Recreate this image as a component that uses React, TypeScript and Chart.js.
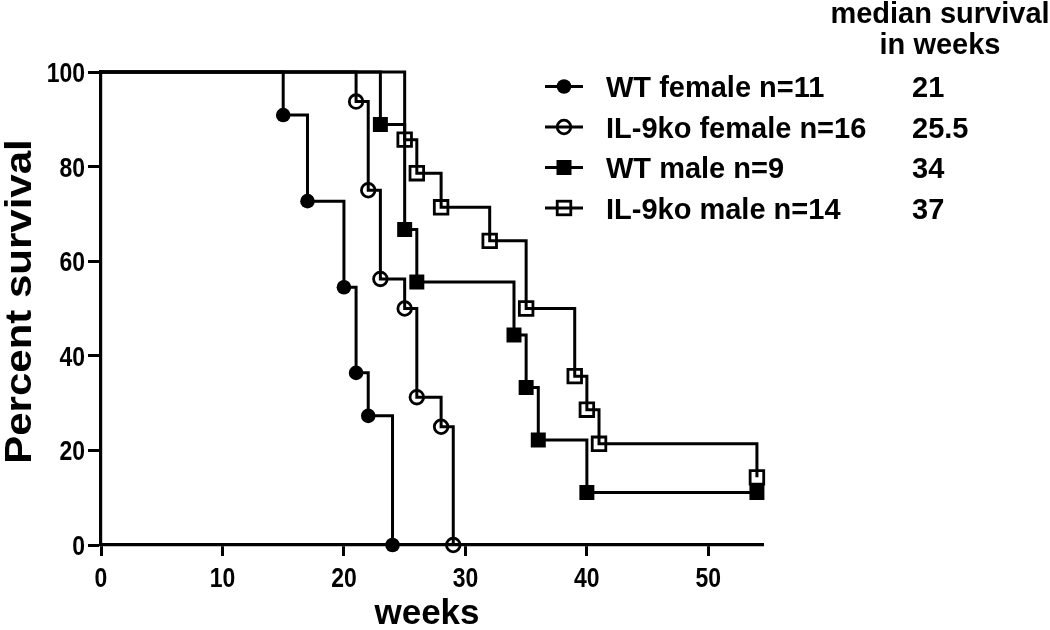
import React, { useEffect, useRef } from 'react';
import { Chart, registerables } from 'chart.js';

Chart.register(...registerables);

// ---------- data ----------
const X_TICKS = [0, 10, 20, 30, 40, 50];
const Y_TICKS = [0, 20, 40, 60, 80, 100];
const X_TITLE = 'weeks';
const Y_TITLE = 'Percent survival';

const SERIES_NAMES = ['WT female n=11', 'IL-9ko female n=16', 'WT male n=9', 'IL-9ko male n=14'];
const MEDIANS = ['21', '25.5', '34', '37'];
const MEDIAN_HEADER = ['median survival', 'in weeks'];

const wtFemaleWeeks = [0, 15, 17, 20, 21, 22, 24];
const wtFemalePct = [100, 90.9, 72.7, 54.5, 36.4, 27.3, 0];

const ilFemaleWeeks = [0, 21, 22, 23, 25, 26, 28, 29];
const ilFemalePct = [100, 93.75, 75, 56.25, 50, 31.25, 25, 0];

const wtMaleWeeks = [0, 23, 25, 26, 34, 35, 36, 40, 54];
const wtMalePct = [100, 88.9, 66.7, 55.6, 44.4, 33.3, 22.2, 11.1, 11.1];

const ilMaleWeeks = [0, 25, 26, 28, 32, 35, 39, 40, 41, 54];
const ilMalePct = [100, 85.7, 78.6, 71.4, 64.3, 50, 35.7, 28.6, 21.4, 14.3];

// ---------- styles ----------
const FONT = "'Liberation Sans', Arial, sans-serif";
const LINE_W = 3;
type MarkerKind = 'dot' | 'ring' | 'square' | 'box';
const MARKERS: MarkerKind[] = ['dot', 'ring', 'square', 'box'];

const toPoints = (xs: number[], ys: number[]) => xs.map((x, i) => ({ x, y: ys[i] }));

function markerOptions(kind: MarkerKind) {
  const hide0 = (r: number) => (c: any) => (c.dataIndex === 0 ? 0 : r);
  switch (kind) {
    case 'dot':
      return { pointStyle: 'circle', pointRadius: hide0(7.3), pointBackgroundColor: '#000', pointBorderColor: '#000', pointBorderWidth: 0 };
    case 'ring':
      return { pointStyle: 'circle', pointRadius: hide0(6.8), pointBackgroundColor: 'rgba(0,0,0,0)', pointBorderColor: '#000', pointBorderWidth: 2.8 };
    case 'square':
      return { pointStyle: 'rect', pointRadius: hide0(10.6), pointBackgroundColor: '#000', pointBorderColor: '#000', pointBorderWidth: 0 };
    default:
      return { pointStyle: 'rect', pointRadius: hide0(9.6), pointBackgroundColor: 'rgba(0,0,0,0)', pointBorderColor: '#000', pointBorderWidth: 2.8 };
  }
}

function drawMarker(ctx: CanvasRenderingContext2D, kind: MarkerKind, x: number, y: number) {
  ctx.save();
  ctx.fillStyle = '#000';
  ctx.strokeStyle = '#000';
  ctx.lineWidth = 2.8;
  if (kind === 'dot') {
    ctx.beginPath();
    ctx.arc(x, y, 7.3, 0, Math.PI * 2);
    ctx.fill();
  } else if (kind === 'ring') {
    ctx.beginPath();
    ctx.arc(x, y, 6.8, 0, Math.PI * 2);
    ctx.stroke();
  } else if (kind === 'square') {
    const s = 10.6 * Math.SQRT1_2;
    ctx.fillRect(x - s, y - s, 2 * s, 2 * s);
  } else {
    const s = 9.6 * Math.SQRT1_2;
    ctx.strokeRect(x - s, y - s, 2 * s, 2 * s);
  }
  ctx.restore();
}

const overlayPlugin = {
  id: 'overlay',
  afterDraw(chart: any) {
    const ctx: CanvasRenderingContext2D = chart.ctx;
    const xs = chart.scales.x;
    const ys = chart.scales.y;
    const area = chart.chartArea;
    ctx.save();
    ctx.fillStyle = '#000';

    // y tick labels (narrow bold)
    ctx.font = `bold 28px ${FONT}`;
    ctx.textAlign = 'right';
    ctx.textBaseline = 'alphabetic';
    for (const t of ys.ticks) {
      const py = ys.getPixelForValue(t.value);
      ctx.save();
      ctx.translate(area.left - 16, py + 10);
      ctx.scale(0.82, 1);
      ctx.fillText(String(t.value), 0, 0);
      ctx.restore();
    }
    // x tick labels
    ctx.textAlign = 'center';
    for (const t of xs.ticks) {
      const px = xs.getPixelForValue(t.value);
      ctx.save();
      ctx.translate(px, area.bottom + 42);
      ctx.scale(0.82, 1);
      ctx.fillText(String(t.value), 0, 0);
      ctx.restore();
    }

    // x title
    ctx.font = `bold 35px ${FONT}`;
    ctx.textAlign = 'center';
    ctx.fillText(X_TITLE, (area.left + area.right) / 2 - 5, 624);

    // y title
    ctx.save();
    ctx.translate(31, (area.top + area.bottom) / 2 - 7);
    ctx.rotate(-Math.PI / 2);
    ctx.scale(1, 0.86);
    ctx.font = `bold 42px ${FONT}`;
    ctx.textAlign = 'center';
    ctx.textBaseline = 'alphabetic';
    ctx.fillText(Y_TITLE, 0, 0);
    ctx.restore();

    // legend
    ctx.font = `bold 29px ${FONT}`;
    ctx.textAlign = 'center';
    ctx.fillText(MEDIAN_HEADER[0], 940, 23);
    ctx.fillText(MEDIAN_HEADER[1], 940, 54);
    ctx.textAlign = 'left';
    SERIES_NAMES.forEach((name, i) => {
      const base = 97 + i * 40.5;
      const cy = base - 10.5;
      ctx.save();
      ctx.lineWidth = LINE_W;
      ctx.strokeStyle = '#000';
      ctx.beginPath();
      ctx.moveTo(545, cy);
      ctx.lineTo(583, cy);
      ctx.stroke();
      ctx.restore();
      drawMarker(ctx, MARKERS[i], 564, cy);
      ctx.fillText(name, 606, base);
      ctx.fillText(MEDIANS[i], 912, base);
    });
    ctx.restore();
  },
};

export default function App() {
  const ref = useRef<HTMLCanvasElement>(null);
  useEffect(() => {
    if (!ref.current) return;
    const series = [
      toPoints(wtFemaleWeeks, wtFemalePct),
      toPoints(ilFemaleWeeks, ilFemalePct),
      toPoints(wtMaleWeeks, wtMalePct),
      toPoints(ilMaleWeeks, ilMalePct),
    ];
    const chart = new Chart(ref.current, {
      type: 'line',
      data: {
        datasets: series.map((data, i) => ({
          label: SERIES_NAMES[i],
          data,
          stepped: true,
          borderColor: '#000',
          borderWidth: LINE_W,
          fill: false,
          clip: false,
          ...markerOptions(MARKERS[i]),
        })) as any,
      },
      options: {
        responsive: false,
        animation: false,
        devicePixelRatio: 1,
        events: [],
        layout: { padding: { left: 0, top: 72, right: 287, bottom: 0 } },
        plugins: { legend: { display: false }, tooltip: { enabled: false } },
        scales: {
          x: {
            type: 'linear',
            min: 0,
            max: 54.5,
            afterBuildTicks: (s: any) => { s.ticks = X_TICKS.map((v) => ({ value: v })); },
            afterFit: (s: any) => { s.height = 85; },
            ticks: { display: false },
            grid: { drawOnChartArea: false, drawTicks: true, tickLength: 11, tickWidth: 3, tickColor: '#000' },
            border: { display: true, color: '#000', width: 3.2 },
          },
          y: {
            type: 'linear',
            min: 0,
            max: 100,
            afterBuildTicks: (s: any) => { s.ticks = Y_TICKS.map((v) => ({ value: v })); },
            afterFit: (s: any) => { s.width = 101; },
            ticks: { display: false },
            grid: { drawOnChartArea: false, drawTicks: true, tickLength: 13, tickWidth: 3, tickColor: '#000' },
            border: { display: true, color: '#000', width: 3.2 },
          },
        },
      } as any,
      plugins: [overlayPlugin],
    });
    return () => chart.destroy();
  }, []);
  return (
    <div style={{ position: 'absolute', left: 0, top: 0, width: 1050, height: 630, background: '#fff' }}>
      <canvas ref={ref} width={1050} height={630} />
    </div>
  );
}
